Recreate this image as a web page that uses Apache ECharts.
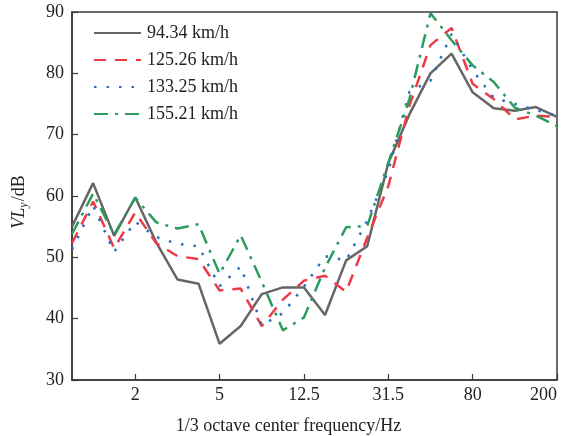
<!DOCTYPE html>
<html>
<head>
<meta charset="utf-8">
<script src="https://cdn.jsdelivr.net/npm/echarts@6/dist/echarts.min.js"></script>
<style>html,body{margin:0;padding:0;background:#fff;}#c{width:562px;height:436px;}</style>
</head>
<body>
<div id="c"></div>
<script>
var categories = ['1','1.25','1.6','2','2.5','3.15','4','5','6.3','8','10','12.5','16','20','25','31.5','40','50','63','80','100','125','160','200'];
var seriesNames = ['94.34 km/h','125.26 km/h','133.25 km/h','155.21 km/h'];
var v94 =  [55.0, 62.1, 53.5, 59.8, 52.4, 46.4, 45.7, 35.9, 38.8, 44.0, 45.1, 45.1, 40.6, 49.5, 51.8, 65.4, 73.3, 80.0, 83.2, 76.9, 74.3, 73.9, 74.5, 72.9];
var v125 = [52.3, 59.1, 51.5, 57.3, 52.3, 50.2, 49.7, 44.6, 44.9, 38.8, 43.1, 46.2, 47.0, 44.4, 53.2, 61.6, 74.7, 84.6, 87.4, 78.3, 75.8, 72.5, 73.1, 72.9];
var v133 = [51.3, 58.4, 50.9, 55.8, 53.3, 52.2, 51.8, 45.3, 48.5, 38.9, 40.9, 45.2, 50.2, 49.5, 56.0, 64.1, 77.0, 78.8, 86.4, 80.5, 76.0, 75.0, 74.0, 73.1];
var v155 = [53.8, 60.4, 53.7, 59.7, 55.7, 54.7, 55.4, 47.3, 53.6, 46.0, 38.1, 40.2, 48.3, 54.9, 55.1, 65.4, 75.8, 89.8, 85.4, 81.3, 78.6, 74.4, 73.1, 71.4];
var yTicks = [30, 40, 50, 60, 70, 80, 90];

var FONT = 'Liberation Serif';
var chart = echarts.init(document.getElementById('c'), null, {renderer: 'canvas'});
var tickPick = function (index) { return index % 4 === 3; };
function mk(name, data, color, type, w) {
  return {
    name: name, type: 'line', data: data, symbol: 'none', showSymbol: false,
    lineStyle: {color: color, width: w, type: type, cap: 'butt'},
    itemStyle: {color: color}, animation: false, z: 2
  };
}
chart.setOption({
  animation: false,
  backgroundColor: '#fff',
  grid: {left: 72, right: 5, top: 12, bottom: 56, show: true, borderColor: '#3a3a3a', borderWidth: 1.5, backgroundColor: 'transparent', outerBoundsMode: 'none'},
  legend: {
    orient: 'vertical', left: 88, top: 19, itemWidth: 47, itemHeight: 14, itemGap: 9,
    itemStyle: {color: 'transparent', borderColor: 'transparent', borderWidth: 0, opacity: 0},
    textStyle: {fontFamily: FONT, fontSize: 18, color: '#222', padding: [0, 0, 0, 1]},
    data: seriesNames
  },
  xAxis: {
    type: 'category', data: categories, boundaryGap: false,
    name: '1/3 octave center frequency/Hz', nameLocation: 'middle', nameGap: 37,
    nameTextStyle: {fontFamily: FONT, fontSize: 18, color: '#222', padding: [0, 52, 0, 0]},
    axisLine: {lineStyle: {color: '#3a3a3a', width: 1.5}},
    axisTick: {inside: true, length: 6, interval: tickPick, lineStyle: {color: '#3a3a3a', width: 1.2}},
    axisLabel: {interval: tickPick, margin: 6, fontFamily: FONT, fontSize: 18, color: '#222', alignMaxLabel: 'right'},
    splitLine: {show: false}
  },
  yAxis: {
    type: 'value', min: yTicks[0], max: yTicks[yTicks.length - 1], interval: 10,
    name: '{it|VL}{sub|y}{n|/dB}', nameLocation: 'middle', nameGap: 42, nameRotate: 90,
    nameTextStyle: {
      fontFamily: FONT, fontSize: 18, color: '#222', padding: [0, 12, 0, 0],
      rich: {
        it: {fontFamily: FONT, fontSize: 18, fontStyle: 'italic', color: '#222', lineHeight: 22, verticalAlign: 'middle'},
        sub: {fontFamily: FONT, fontSize: 12, fontStyle: 'italic', color: '#222', lineHeight: 22, verticalAlign: 'bottom', padding: [6, 1, 0, 0]},
        n: {fontFamily: FONT, fontSize: 18, color: '#222', lineHeight: 22, verticalAlign: 'middle'}
      }
    },
    axisLine: {show: true, lineStyle: {color: '#3a3a3a', width: 1.5}},
    axisTick: {show: true, inside: true, length: 6, lineStyle: {color: '#3a3a3a', width: 1.2}},
    axisLabel: {margin: 8, fontFamily: FONT, fontSize: 18, color: '#222'},
    splitLine: {show: false}
  },
  series: [
    mk(seriesNames[0], v94, '#666666', 'solid', 2.5),
    mk(seriesNames[1], v125, '#ec3b45', [12, 9], 2.5),
    mk(seriesNames[2], v133, '#2b6cb8', [2.5, 10], 2.5),
    mk(seriesNames[3], v155, '#2a9d5c', [14, 7, 3, 7], 2.5)
  ]
});
</script>
</body>
</html>
